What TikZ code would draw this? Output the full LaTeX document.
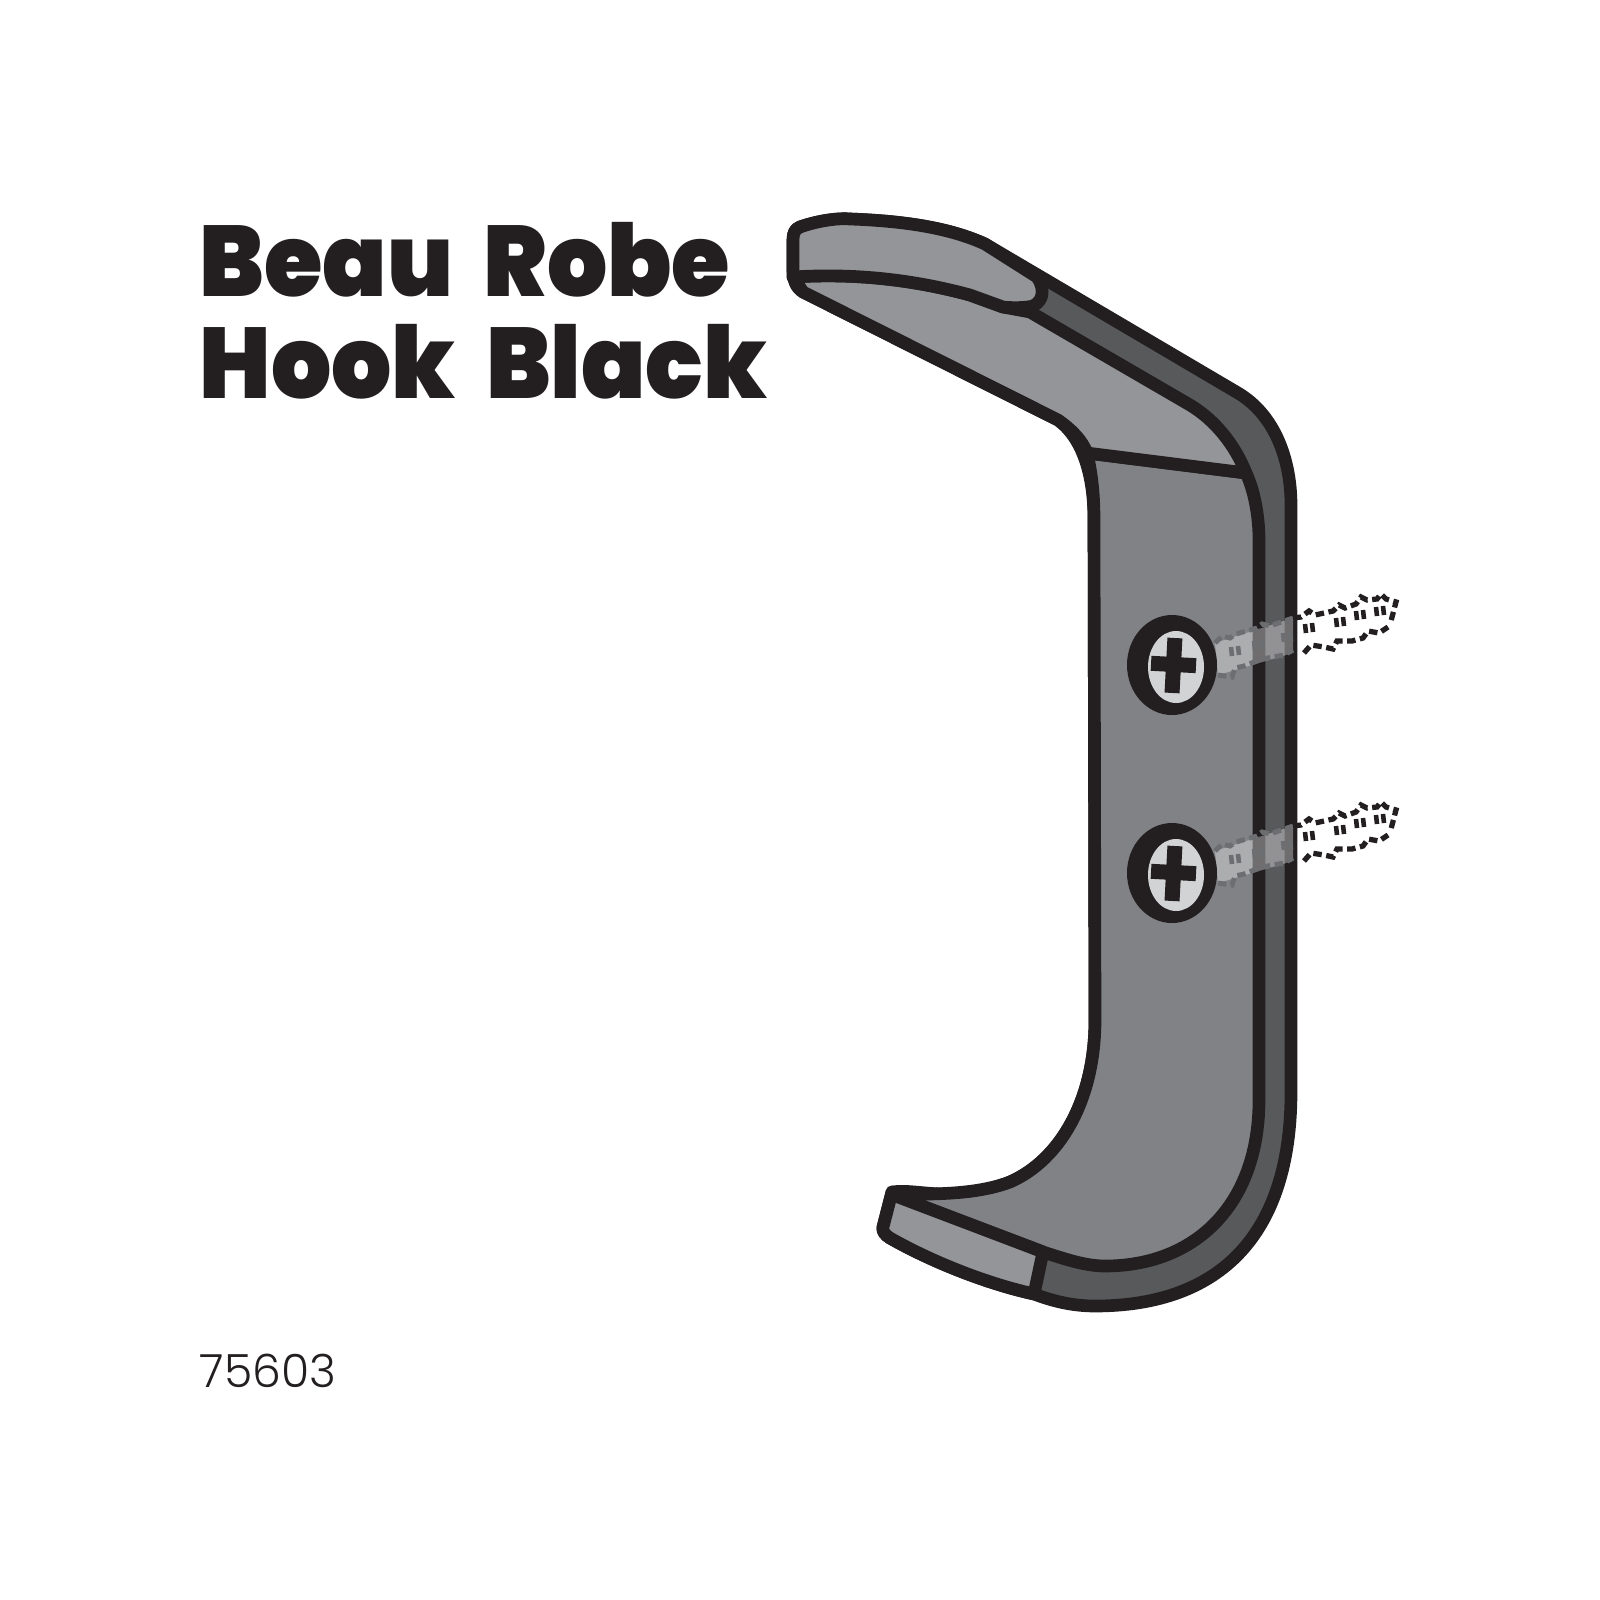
\documentclass[tikz,border=0pt]{standalone}
\usepackage{fontspec}
\setmainfont{Poppins}
\newfontfamily\titlefont{Poppins Black}[FakeStretch=0.945,WordSpace=1.9]
\newfontfamily\codefont{Poppins Light}
\definecolor{hookline}{HTML}{231F20}
\definecolor{hookface}{HTML}{808285}
\definecolor{hooktop}{HTML}{939598}
\definecolor{hookside}{HTML}{58595B}
\definecolor{screwface}{HTML}{D1D3D4}
\definecolor{threadgrey}{HTML}{6D6E71}
\tikzset{
  outline/.style={draw=hookline,line width=3.6pt,line join=round},
  titletext/.style={anchor=base west,inner sep=0pt,text=hookline,font=\titlefont\fontsize{28.5}{28.5}\selectfont},
  codetext/.style={anchor=base west,inner sep=0pt,text=hookline,font=\codefont\fontsize{13}{13}\selectfont},
  shank/.style={fill=white,fill opacity=.35,draw=none},
  threadin/.style={draw=threadgrey,line width=1.4pt,dash pattern=on 2.4pt off 1.3pt},
  threadout/.style={draw=hookline,line width=1.5pt,dash pattern=on 2.4pt off 1.3pt},
  screw/.pic={
    \fill[shank] (43,-22) -- (121,-47) -- (121,-12) -- (46,10) -- cycle;
    \fill[hookline] (0,0) ellipse [x radius=45,y radius=50];
    \fill[screwface] (4,2) ellipse [x radius=28,y radius=36];
    \fill[hookline,rotate around={-3:(2,0)}] (-6,-27) rectangle (9,28) (-21,-8) rectangle (24,7);
    \draw[threadin] (43,-22) -- (50,-29) -- (58,-27) -- (64,-31) -- (85,-37) -- (90,-41) -- (98,-39) -- (121,-47)
      (46,10) -- (60,12) -- (63,3) -- (72,1) -- (90,-6) -- (112,-10) -- (121,-15);
    \draw[threadout] (121,-47) -- (129,-48) -- (137,-54) -- (143,-50) -- (161,-54) -- (167,-60) -- (173,-57)
      -- (184,-61) -- (189,-68) -- (195,-65) -- (205,-66) -- (209,-71) -- (214,-66) -- (224,-63)
      -- (219,-44)
      (132,-12) -- (139,-20) -- (152,-18) -- (161,-16) -- (165,-24) -- (180,-24) -- (191,-27)
      -- (196,-34) -- (207,-32) -- (216,-38);
    \foreach \x/\y in {63/-14,86/-20,115/-28} {
      \draw[threadgrey,line width=1.3pt] (\x-4,\y-4) -- ++(1,9) (\x+3,\y-5) -- ++(1,9);
    }
    \foreach \x/\y in {137/-37,168/-43,188/-50,208/-54} {
      \draw[hookline,line width=1.3pt] (\x-4,\y-4) -- ++(1,9) (\x+3,\y-5) -- ++(1,9);
    }
  }
}
\begin{document}
\begin{tikzpicture}[x=0.01cm,y=-0.01cm]
  \useasboundingbox[fill=white] (0,0) rectangle (1600,1600);

  % labels
  \node[titletext] (title1) at (199,296) {Beau Robe};
  \node[titletext] (title2) at (199,398) {Hook Black};
  \node[codetext] (code) at (199,1387) {75603};

  % body of the hook
  \draw[outline,fill=hookside] (800,227) .. controls (820,220) and (840,218) .. (850,219)
    .. controls (905,221) and (950,228) .. (985,244) -- (1238,393)
    .. controls (1275,415) and (1291,460) .. (1291,505) -- (1291,1092)
    .. controls (1291,1235) and (1220,1306) .. (1095,1306)
    .. controls (1070,1306) and (1050,1300) .. (1034,1294)
    .. controls (980,1282) and (925,1258) .. (890,1238)
    .. controls (885,1235) and (882,1231) .. (883,1227)
    -- (892,1192) .. controls (905,1190) and (920,1193) .. (940,1194)
    .. controls (970,1195) and (990,1190) .. (1010,1182)
    .. controls (1060,1160) and (1095,1100) .. (1095,1020)
    -- (1094,520) .. controls (1094,480) and (1085,440) .. (1058,420)
    -- (803,292) .. controls (796,288) and (793,280) .. (793,270)
    -- (793,240) .. controls (793,233) and (795,229) .. (800,227) -- cycle;

  % front plate
  \draw[outline,fill=hookface] (1087,453) -- (1246,473)
    .. controls (1254,490) and (1259,515) .. (1259,540) -- (1259,1100)
    .. controls (1259,1205) and (1195,1266) .. (1105,1266)
    .. controls (1085,1266) and (1065,1259) .. (1043,1252)
    -- (1030,1247) -- (893,1195) .. controls (920,1193) and (970,1197) .. (1010,1182)
    .. controls (1060,1160) and (1095,1100) .. (1095,1020)
    -- (1094,520) .. controls (1094,495) and (1092,475) .. (1087,453) -- cycle;

  % top face
  \draw[outline,fill=hooktop] (793,277) .. controls (840,274) and (900,276) .. (970,295)
    -- (1003,307) -- (1030,312) -- (1190,405)
    .. controls (1215,420) and (1235,445) .. (1246,473) -- (1087,453)
    .. controls (1082,440) and (1072,430) .. (1058,420) -- (803,292) -- cycle;

  % tip of the top
  \draw[outline,fill=hooktop] (800,227) .. controls (820,220) and (840,218) .. (850,219)
    .. controls (905,221) and (950,228) .. (985,244)
    -- (1037,277) .. controls (1044,287) and (1045,300) .. (1033,306)
    .. controls (1025,308) and (1012,308) .. (1003,307)
    -- (970,295) .. controls (900,276) and (840,274) .. (793,277)
    -- (793,240) .. controls (793,233) and (795,229) .. (800,227) -- cycle;

  % bottom face
  \draw[outline,fill=hooktop] (892,1192) -- (893,1195) -- (1030,1247) -- (1043,1252) -- (1034,1294)
    .. controls (980,1282) and (925,1258) .. (890,1238)
    .. controls (885,1235) and (882,1231) .. (883,1227) -- cycle;

  % screws
  \pic (screwtop) at (1172,665) {screw};
  \pic (screwlow) at (1172,873) {screw};
\end{tikzpicture}
\end{document}
